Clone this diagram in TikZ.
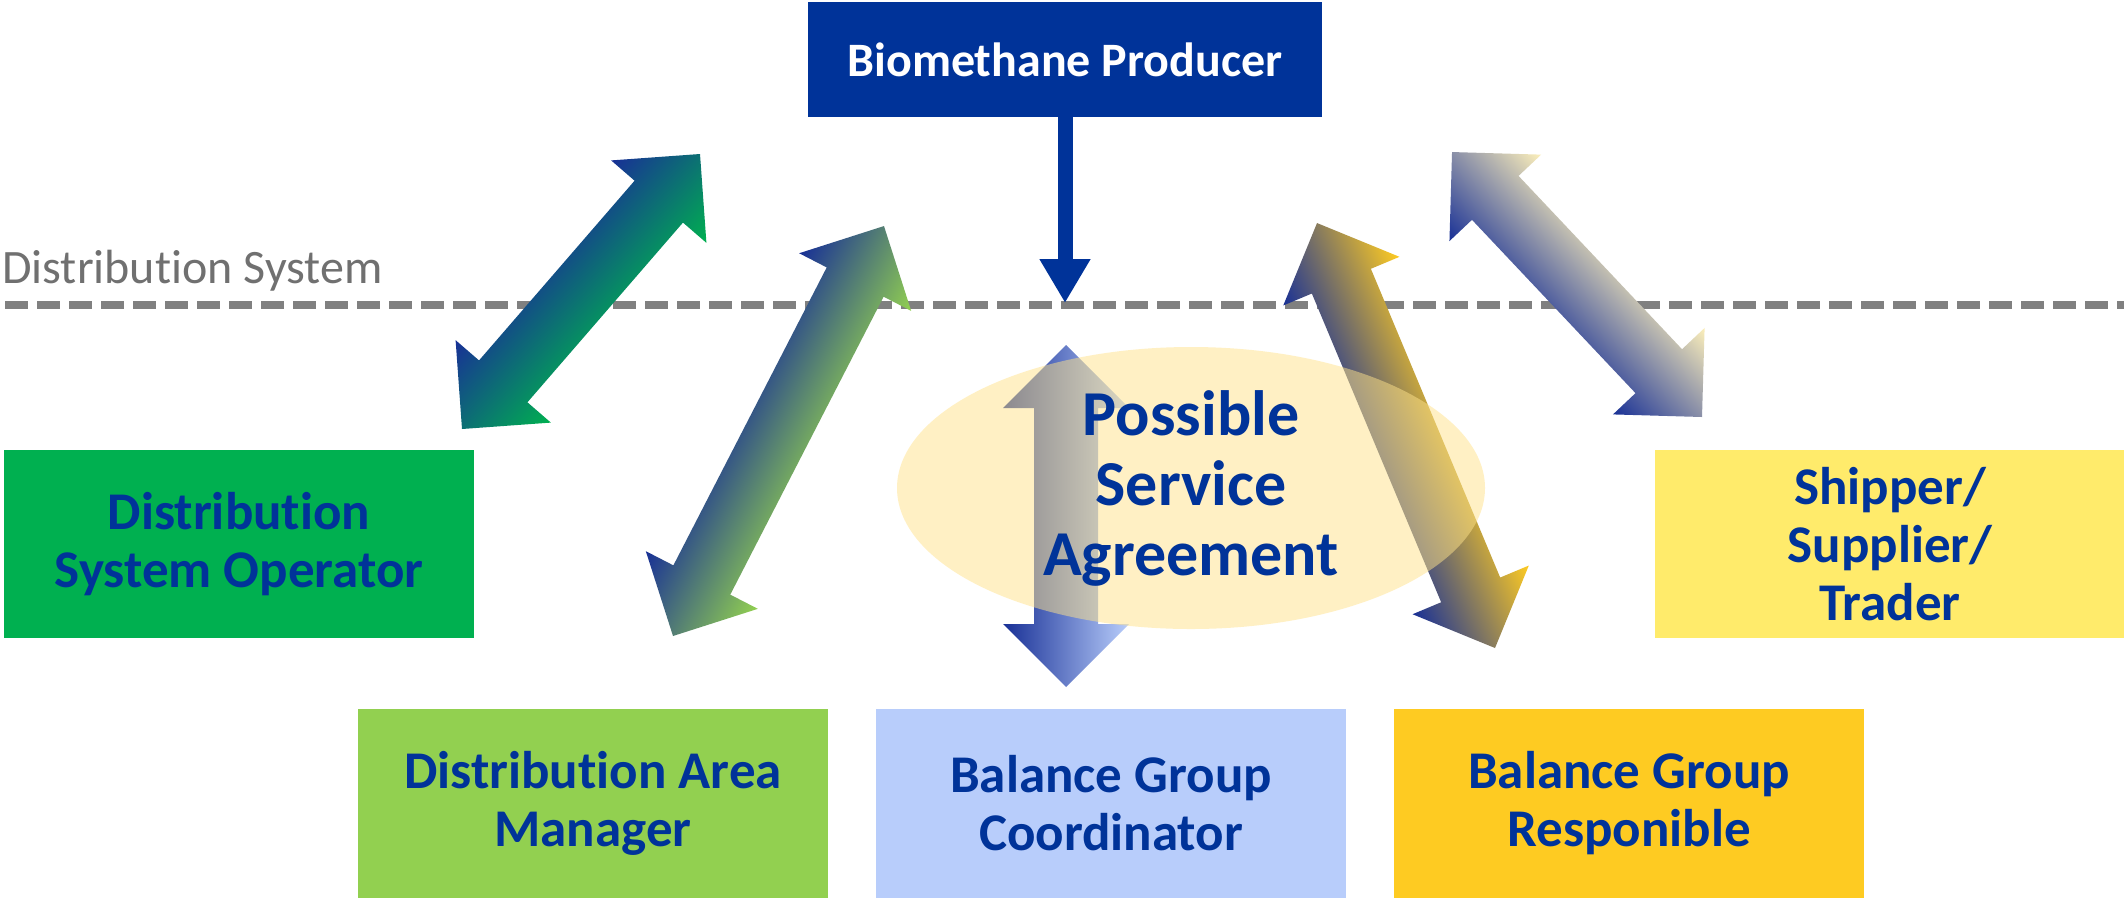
\documentclass[tikz,border=0pt]{standalone}
\usepackage{fontspec}
\setmainfont[Ligatures=NoCommon]{Carlito}
\usetikzlibrary{arrows.meta,shapes.geometric,calc}

\definecolor{navy}{RGB}{0,51,153}
\definecolor{arrowblue}{RGB}{24,48,150}
\definecolor{dsogreen}{RGB}{0,176,80}
\definecolor{damgreen}{RGB}{146,208,80}
\definecolor{bgcblue}{RGB}{184,205,251}
\definecolor{bgrgold}{RGB}{254,203,34}
\definecolor{shipyellow}{RGB}{255,235,107}
\definecolor{shipcream}{RGB}{252,239,186}
\definecolor{ellfill}{RGB}{255,227,138}
\definecolor{linegray}{RGB}{128,128,128}
\definecolor{labelgray}{RGB}{112,112,112}

\newcommand\boxfont{\bfseries\fontsize{53}{58}\selectfont}
\newcommand\headfont{\bfseries\fontsize{48}{58}\selectfont}
\newcommand\ellfont{\bfseries\fontsize{64}{70}\selectfont}

% double-headed block arrow from coordinate #1 to coordinate #2,
% shaded across its width from dark blue (left side) to colour #3
\newcommand\blockarrow[3]{%
  \pgfpointdiff{\pgfpointanchor{#1}{center}}{\pgfpointanchor{#2}{center}}%
  \pgfgetlastxy{\bdx}{\bdy}%
  \pgfmathsetmacro\arrang{atan2(\bdy,\bdx)}%
  \pgfmathsetmacro\arrlen{veclen(\bdx,\bdy)}%
  \begin{scope}[transform canvas={shift={(#1)},rotate=\arrang}]
    \shade[top color=arrowblue, bottom color=#3]
      (0,0) -- (63,-63) -- (63,-32) -- (\arrlen-63,-32) -- (\arrlen-63,-63)
      -- (\arrlen,0) -- (\arrlen-63,63) -- (\arrlen-63,32) -- (63,32)
      -- (63,63) -- cycle;
  \end{scope}}

\begin{document}
\begin{tikzpicture}[x=1pt,y=-1pt,
  role/.style={rectangle, inner sep=0pt, minimum width=470pt,
    minimum height=189pt, align=center, text=navy, font=\boxfont}]

\useasboundingbox[fill=white] (0,0) rectangle (2124,898);

% boundary of the distribution system
\coordinate (dl) at (5,305);
\coordinate (dr) at (2124,305);
\draw[linegray, line width=8pt, dash pattern=on 23pt off 9pt] (dl) -- (dr);
\node[anchor=base west, inner sep=0pt, text=labelgray,
      font=\fontsize{48}{56}\selectfont] (dsys) at (2,283) {Distribution System};

% market roles
\node[role, minimum width=514pt, minimum height=115pt, fill=navy, text=white,
      font=\headfont] (bp) at (1065,59.5) {Biomethane Producer};
\node[role, minimum height=188pt, fill=dsogreen] (dso) at (239,544)
  {Distribution\\System Operator};
\node[role, minimum height=188pt, fill=shipyellow] (ship) at (1890,544)
  {Shipper/\\Supplier/\\Trader};
\node[role, fill=damgreen] (dam) at (593,803.5) {Distribution Area\\Manager};
\node[role, fill=bgcblue] (bgc) at (1111,803.5) {Balance Group\\Coordinator};
\node[role, fill=bgrgold] (bgr) at (1629,803.5) {Balance Group\\Responible};

% injection into the grid
\coordinate (inj) at (1065,303);
\draw[navy, line width=15pt, -{Triangle[width=48pt,length=44pt]}] (bp.south) -- (inj);

% end points of the block arrows
\coordinate (dsoA) at (462,429);  \coordinate (dsoB) at (700,154);
\coordinate (damA) at (673,636);  \coordinate (damB) at (884,226);
\coordinate (bgcA) at (1066,687); \coordinate (bgcB) at (1066,345);
\coordinate (bgrA) at (1495,648); \coordinate (bgrB) at (1317,223);
\coordinate (shpA) at (1702,417); \coordinate (shpB) at (1452,152);

\blockarrow{dsoA}{dsoB}{dsogreen}
\blockarrow{damA}{damB}{damgreen}
\blockarrow{bgcA}{bgcB}{bgcblue}
\blockarrow{bgrA}{bgrB}{bgrgold}
\blockarrow{shpA}{shpB}{shipcream}

% optional service agreement
\node[ellipse, minimum width=588pt, minimum height=282pt, inner sep=0pt,
      fill=ellfill, fill opacity=0.5, text opacity=1, text=navy,
      align=center, font=\ellfont] (psa) at (1191,488)
  {Possible\\Service\\Agreement};

\end{tikzpicture}
\end{document}
